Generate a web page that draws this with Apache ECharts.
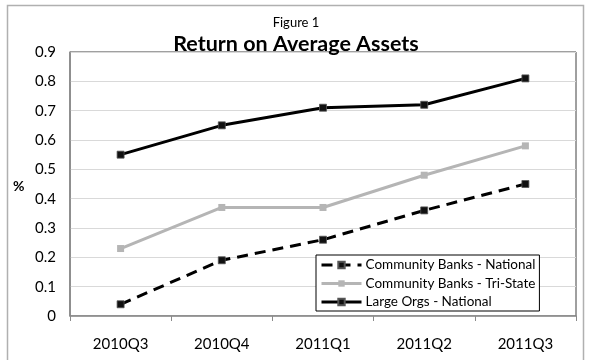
<!DOCTYPE html>
<html>
<head>
<meta charset="utf-8">
<style>
  html, body { margin: 0; padding: 0; background: #fff; }
  #chart { width: 592px; height: 360px; }
</style>
<script src="https://cdn.jsdelivr.net/npm/echarts@6/dist/echarts.min.js"></script>
</head>
<body>
<div id="chart"></div>
<script>
// Quarterly return on average assets (%)
var quarters = ['2010Q3', '2010Q4', '2011Q1', '2011Q2', '2011Q3'];
var communityNational = [0.04, 0.19, 0.26, 0.36, 0.45];
var communityTriState = [0.23, 0.37, 0.37, 0.48, 0.58];
var largeOrgsNational = [0.55, 0.65, 0.71, 0.72, 0.81];
var yTicks = [0, 0.1, 0.2, 0.3, 0.4, 0.5, 0.6, 0.7, 0.8, 0.9];

var FONT = 'Lato, "Open Sans", sans-serif';

var chart = echarts.init(document.getElementById('chart'), null, { renderer: 'canvas' });

chart.setOption({
  backgroundColor: '#ffffff',
  animation: false,
  title: [
    {
      text: 'Figure 1',
      left: 'center',
      top: 11,
      textStyle: { fontFamily: FONT, fontSize: 13, fontWeight: 'normal', color: '#000' }
    },
    {
      text: 'Return on Average Assets',
      left: 'center',
      top: 28,
      textStyle: { fontFamily: FONT, fontSize: 21.5, fontWeight: 'bold', color: '#000' }
    }
  ],
  graphic: [
    {
      type: 'rect',
      shape: { x: 7.5, y: 5.5, width: 576, height: 360 },
      style: { fill: 'none', stroke: '#b0b0b0', lineWidth: 1.5 },
      silent: true, z: -1
    },
    {
      type: 'text',
      left: 13,
      top: 179,
      style: { text: '%', fontFamily: FONT, fontSize: 14, fontWeight: 'bold', fill: '#000' }
    }
  ],
  grid: { left: 70, right: 16, top: 52, bottom: 44, containLabel: false,
          show: true, borderColor: '#404040', borderWidth: 1 },
  xAxis: {
    type: 'category',
    data: quarters,
    boundaryGap: true,
    axisLine: { lineStyle: { color: '#8a8a8a', width: 1.5 } },
    axisTick: { show: true, length: 5, inside: false, lineStyle: { color: '#8a8a8a' } },
    axisLabel: { fontFamily: FONT, fontSize: 15, color: '#000', margin: 21 },
    splitLine: { show: false }
  },
  yAxis: {
    type: 'value',
    min: 0,
    max: 0.9,
    interval: 0.1,
    axisLine: { show: true, lineStyle: { color: '#8a8a8a', width: 1.5 } },
    axisTick: { show: false },
    axisLabel: {
      fontFamily: FONT, fontSize: 15, color: '#000', margin: 14,
      formatter: function (v) {
        var t = yTicks.find(function (k) { return Math.abs(k - v) < 1e-6; });
        return t === undefined ? '' : String(t);
      }
    },
    splitLine: { show: true, lineStyle: { color: '#d9d9d9', width: 1 } }
  },
  legend: {
    orient: 'vertical',
    left: 316,
    top: 255,
    padding: [3, 4, 2, 4],
    itemGap: 4.5,
    itemWidth: 40,
    itemHeight: 8,
    backgroundColor: '#ffffff',
    borderColor: '#000',
    borderWidth: 1,
    lineStyle: { width: 3 },
    textStyle: { fontFamily: FONT, fontSize: 13.5, color: '#000', padding: [0, 0, 0, -1] },
    data: ['Community Banks - National', 'Community Banks - Tri-State', 'Large Orgs - National']
  },
  series: [
    {
      name: 'Community Banks - National',
      type: 'line',
      data: communityNational,
      symbol: 'rect',
      symbolSize: 7,
      lineStyle: { color: '#000', width: 3, type: [11, 7] },
      itemStyle: { color: '#111', borderColor: '#555', borderWidth: 0.8 },
      z: 3
    },
    {
      name: 'Community Banks - Tri-State',
      type: 'line',
      data: communityTriState,
      symbol: 'rect',
      symbolSize: 7,
      lineStyle: { color: '#b5b5b5', width: 3 },
      itemStyle: { color: '#b5b5b5', borderColor: '#b5b5b5', borderWidth: 0 },
      z: 2
    },
    {
      name: 'Large Orgs - National',
      type: 'line',
      data: largeOrgsNational,
      symbol: 'rect',
      symbolSize: 7,
      lineStyle: { color: '#000', width: 3 },
      itemStyle: { color: '#111', borderColor: '#555', borderWidth: 0.8 },
      z: 2
    }
  ]
});
</script>
</body>
</html>
